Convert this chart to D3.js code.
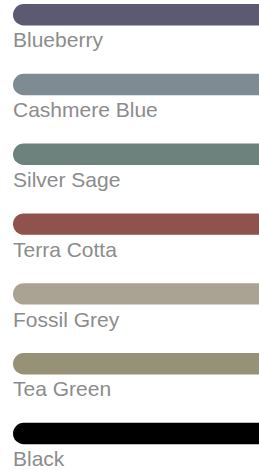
<!DOCTYPE html>
<html>
<head>
<meta charset="utf-8">
<script src="https://cdn.jsdelivr.net/npm/d3@7"></script>
<style>
  body { margin: 0; background: #fff; }
  svg { display: block; }
  .swatch-label { font-family: "Liberation Sans", Arial, sans-serif; font-size: 21px; fill: #8c8c8c; }
</style>
</head>
<body>
<svg class="swatches"></svg>
<script>
// colour names and swatch colours
const names = ["Blueberry", "Cashmere Blue", "Silver Sage", "Terra Cotta", "Fossil Grey", "Tea Green", "Black"];
const colors = ["#5c5a72", "#7f8b92", "#6d827d", "#8f524c", "#aaa393", "#979277", "#000000"];

const width = 259, height = 470;
const rowHeight = 69.8;
const barHeight = 21.4;
const left = 13;

const svg = d3.select(".swatches")
    .attr("width", width)
    .attr("height", height);

const y = d3.scaleBand()
    .domain(names)
    .range([4, 4 + rowHeight * names.length]);

const rows = svg.selectAll("g")
    .data(names)
    .enter().append("g")
        .attr("transform", (d) => "translate(0," + y(d) + ")");

// rounded on the left only, runs off the right edge
rows.append("rect")
    .attr("x", left)
    .attr("width", width + 20)
    .attr("height", barHeight)
    .attr("rx", barHeight / 2)
    .attr("fill", (d, i) => colors[i]);

rows.append("text")
    .attr("class", "swatch-label")
    .attr("x", left)
    .attr("y", barHeight + 22)
    .text((d) => d);
</script>
</body>
</html>
